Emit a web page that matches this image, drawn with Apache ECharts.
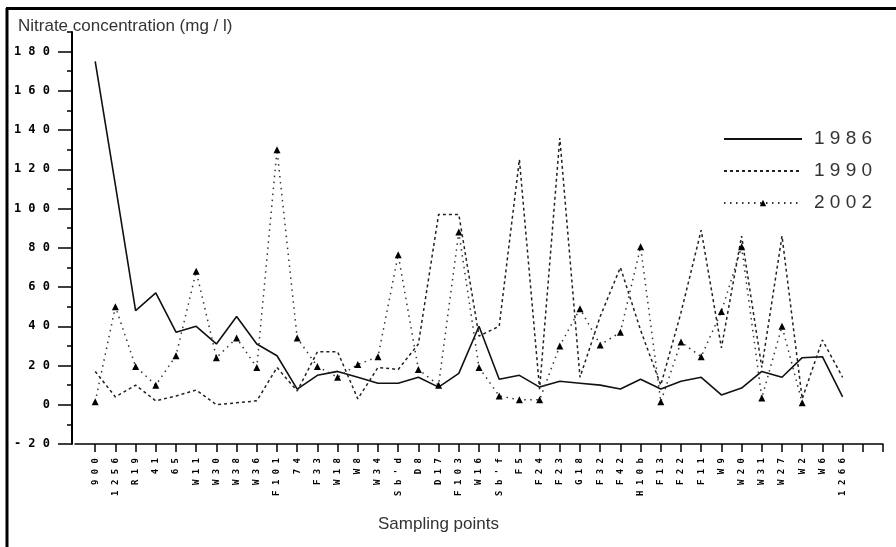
<!DOCTYPE html>
<html>
<head>
<meta charset="utf-8">
<title>Nitrate concentration</title>
<script src="https://cdn.jsdelivr.net/npm/echarts@6/dist/echarts.min.js"></script>
<style>
  html, body { margin: 0; padding: 0; background: #fff; }
  #chart { width: 896px; height: 547px; }
</style>
</head>
<body>
<div id="chart"></div>
<script>
// sampling points along the x axis
var points = ['900', '1256', 'R19', '41', '65', 'W11', 'W30', 'W38', 'W36', 'F101', '74', 'F33', 'W18', 'W8', 'W34',
  "Sb'd", 'D8', 'D17', 'F103', 'W16', "Sb'f", 'F5', 'F24', 'F23', 'G18', 'F32', 'F42', 'H10b', 'F13', 'F22', 'F11',
  'W9', 'W20', 'W31', 'W27', 'W2', 'W6', '1266'];

// nitrate (mg / l)
var y1986 = [175, 112, 48, 57, 37, 40, 31, 45, 31, 25, 8, 15, 17, 14, 11, 11, 14, 9, 16, 40, 13, 15, 9, 12, 11, 10,
  8, 13, 8, 12, 14, 5, 8.5, 17, 14, 24, 24.5, 4];
var y1990 = [17, 4, 10, 2, 4.5, 7.5, 0, 1, 2, 19, 7, 27, 27, 3, 19, 18, 31, 97, 97, 35, 40, 125, 8, 136, 14, 45,
  70, 38, 10, 47, 89, 29, 86, 19, 86, 3, 33, 14];
var y2002 = [1.5, 50, 19.5, 10, 25, 68, 24, 34, 19, 130, 34, 19.5, 14, 20.5, 24.5, 76.5, 18, 10, 88, 19, 4.5, 2.5,
  2.5, 30, 49, 30.5, 37, 80.5, 1.5, 32, 24.5, 47.5, 80.5, 3.5, 40, 1, null, null];

var yTicks = { min: -20, max: 190, major: 20, minor: 10 };

// axis has one empty slot before the first point and two after the last
var axisCats = [''].concat(points, ['', '']);
function pad(arr) { return [null].concat(arr); }
function spread(s) { return String(s).split('').join(' '); }

var chart = echarts.init(document.getElementById('chart'));
var option = {
  animation: false,
  backgroundColor: '#fff',
  title: [
    {
      text: 'Nitrate concentration (mg / l)',
      left: 13, top: 13,
      textStyle: { fontFamily: 'Liberation Sans', fontSize: 17, fontWeight: 'normal', color: '#333' }
    },
    {
      text: 'Sampling points',
      left: 373, top: 511,
      textStyle: { fontFamily: 'Liberation Sans', fontSize: 17, fontWeight: 'normal', color: '#333' }
    }
  ],
  graphic: [
    { type: 'line', shape: { x1: 6, y1: 8.5, x2: 896, y2: 8.5 }, style: { stroke: '#000', lineWidth: 3 } },
    { type: 'line', shape: { x1: 7, y1: 8, x2: 7, y2: 547 }, style: { stroke: '#000', lineWidth: 3 } }
  ],
  legend: {
    orient: 'vertical',
    left: 718, top: 124,
    itemWidth: 78, itemHeight: 8, itemGap: 12,
    formatter: spread,
    textStyle: { fontFamily: 'Liberation Sans', fontSize: 19, color: '#333', lineHeight: 20, padding: [0, 0, 0, 7] },
    data: [
      { name: '1986', itemStyle: { opacity: 0 } },
      { name: '1990', itemStyle: { opacity: 0 } },
      { name: '2002' }
    ]
  },
  grid: { left: 75, right: 13, top: 32, bottom: 103 },
  xAxis: {
    type: 'category',
    data: axisCats,
    boundaryGap: false,
    axisLine: { onZero: false, lineStyle: { color: '#000', width: 1.5 } },
    axisTick: { length: 8, interval: function (i) { return i !== 0; }, lineStyle: { color: '#000', width: 1.5 } },
    axisLabel: {
      interval: 0, rotate: 90, margin: 14,
      fontFamily: 'DejaVu Sans Mono', fontWeight: 'bold', fontSize: 9, color: '#000',
      formatter: spread
    },
    splitLine: { show: false }
  },
  yAxis: [
    {
      type: 'value',
      min: yTicks.min, max: yTicks.max, interval: yTicks.major,
      offset: 3,
      axisLine: { show: true, lineStyle: { color: '#000', width: 2 } },
      axisTick: { show: true, length: 14, lineStyle: { color: '#000', width: 1.5 } },
      axisLabel: {
        margin: 22, showMaxLabel: false,
        fontFamily: 'DejaVu Sans Mono', fontWeight: 'bold', fontSize: 12, color: '#000',
        formatter: spread
      },
      splitLine: { show: false }
    },
    {
      type: 'value',
      min: yTicks.min, max: yTicks.max, interval: yTicks.minor,
      position: 'left', offset: 3,
      axisLine: { show: false },
      axisTick: { show: true, length: 5, lineStyle: { color: '#000', width: 1.5 } },
      axisLabel: { show: false },
      splitLine: { show: false }
    }
  ],
  series: [
    {
      name: '1986', type: 'line', data: pad(y1986),
      symbol: 'none',
      lineStyle: { color: '#111', width: 1.6, type: 'solid' },
      itemStyle: { color: '#111' }
    },
    {
      name: '1990', type: 'line', data: pad(y1990),
      symbol: 'none',
      lineStyle: { color: '#222', width: 1.5, type: [3, 3] },
      itemStyle: { color: '#222' }
    },
    {
      name: '2002', type: 'line', data: pad(y2002),
      symbol: 'triangle', symbolSize: 7,
      lineStyle: { color: '#333', width: 1.5, type: [1.5, 4.5] },
      itemStyle: { color: '#000' }
    }
  ]
};
chart.setOption(option);
</script>
</body>
</html>
